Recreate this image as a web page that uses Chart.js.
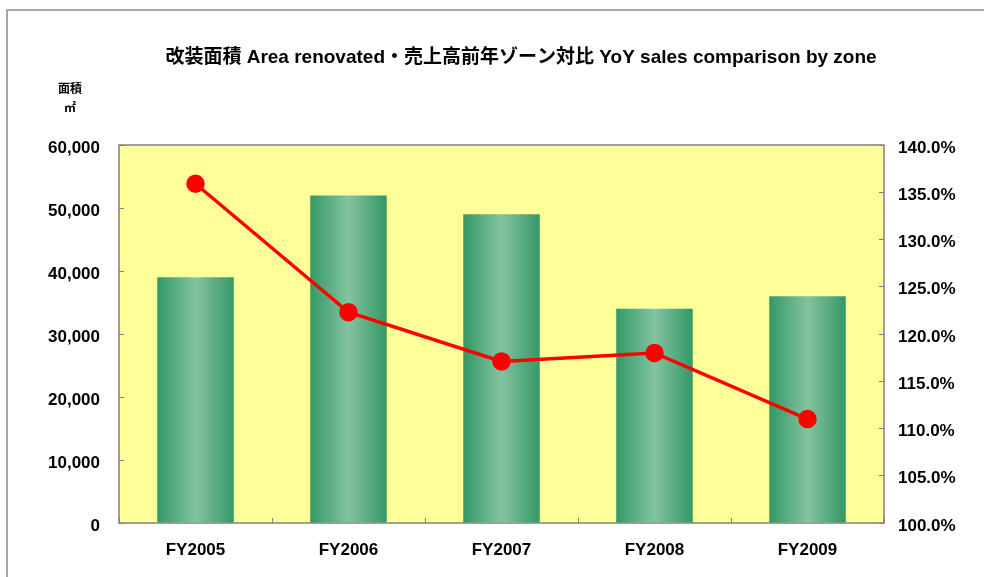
<!DOCTYPE html>
<html>
<head>
<meta charset="utf-8">
<script src="https://cdn.jsdelivr.net/npm/chart.js@4/dist/chart.umd.min.js"></script>
<style>
html,body{margin:0;padding:0;background:#fff;}
#wrap{width:984px;height:577px;position:relative;}
</style>
</head>
<body>
<div id="wrap"><canvas id="c" width="984" height="577"></canvas></div>
<script>
const categories = ['FY2005','FY2006','FY2007','FY2008','FY2009'];
const areaRenovated = [39000, 52000, 49000, 34000, 36000];
const yoySales = [135.9, 122.3, 117.1, 118.0, 111.0];
const titleText = '改装面積 Area renovated・売上高前年ゾーン対比 YoY sales comparison by zone';
const leftAxisLabel = ['面積', '㎡'];

const FONT = "'Liberation Sans', Arial, 'Noto Sans CJK JP', sans-serif";

function barGradient(c) {
  const chart = c.chart;
  const xs = chart.scales.x;
  const area = chart.chartArea;
  if (!area || !xs || c.dataIndex === undefined) return '#3a9a6a';
  const cx = xs.getPixelForValue(c.dataIndex);
  const half = (area.right - area.left) / categories.length * 0.5 / 2;
  const g = chart.ctx.createLinearGradient(cx - half, 0, cx + half, 0);
  g.addColorStop(0, '#349866');
  g.addColorStop(0.5, '#84C3A0');
  g.addColorStop(1, '#349866');
  return g;
}

const framePlugin = {
  id: 'frame',
  beforeDraw(chart) {
    const ctx = chart.ctx, a = chart.chartArea;
    ctx.save();
    ctx.fillStyle = '#fff';
    ctx.fillRect(0, 0, chart.width, chart.height);
    ctx.strokeStyle = '#A6A6A6';
    ctx.lineWidth = 2;
    ctx.beginPath();
    ctx.moveTo(7, chart.height);
    ctx.lineTo(7, 10);
    ctx.lineTo(chart.width, 10);
    ctx.stroke();
    ctx.fillStyle = '#FFFF99';
    ctx.fillRect(a.left, a.top, a.right - a.left, a.bottom - a.top);
    ctx.strokeStyle = '#808080';
    ctx.lineWidth = 1.5;
    ctx.strokeRect(a.left, a.top, a.right - a.left, a.bottom - a.top);
    ctx.fillStyle = '#000';
    ctx.textAlign = 'center';
    ctx.textBaseline = 'middle';
    ctx.font = "bold 19px " + FONT;
    ctx.fillText(titleText, 521, 58);
    ctx.font = "bold 12px 'Noto Sans CJK JP', sans-serif";
    ctx.fillText(leftAxisLabel[0], 70, 88);
    ctx.fillText(leftAxisLabel[1], 70, 107);
    ctx.restore();
  }
};

new Chart(document.getElementById('c'), {
  data: {
    labels: categories,
    datasets: [
      {
        type: 'line',
        label: 'YoY',
        data: yoySales,
        yAxisID: 'y1',
        borderColor: '#FF0000',
        backgroundColor: '#FF0000',
        borderWidth: 3.5,
        pointRadius: 7.5,
        pointHoverRadius: 7.5,
        pointBackgroundColor: '#FF0000',
        pointBorderColor: '#FF0000',
        tension: 0,
        order: 0
      },
      {
        type: 'bar',
        label: 'Area',
        data: areaRenovated,
        yAxisID: 'y',
        backgroundColor: barGradient,
        borderWidth: 0,
        barPercentage: 0.5,
        categoryPercentage: 1,
        order: 1
      }
    ]
  },
  options: {
    responsive: false,
    animation: false,
    layout: { padding: { top: 145, left: 0, right: 0, bottom: 0 } },
    plugins: {
      legend: { display: false },
      tooltip: { enabled: false },
      title: { display: false }
    },
    scales: {
      x: {
        offset: true,
        grid: { display: true, offset: true, drawOnChartArea: false, drawTicks: true, tickLength: -5, color: '#808080' },
        border: { display: false },
        ticks: { color: '#000', font: { family: FONT, size: 17, weight: 'bold' }, padding: 22, maxRotation: 0 },
        afterFit(s) { s.height = 54; }
      },
      y: {
        position: 'left',
        min: 0, max: 60000,
        grid: { display: true, drawOnChartArea: false, drawTicks: true, tickLength: -5, color: '#808080' },
        border: { display: false },
        ticks: {
          stepSize: 10000,
          color: '#000',
          font: { family: FONT, size: 17, weight: 'bold' },
          padding: 24,
          labelOffset: 3,
          callback: v => v.toLocaleString('en-US')
        },
        afterFit(s) { s.width = 119; }
      },
      y1: {
        position: 'right',
        min: 100, max: 140,
        grid: { display: true, drawOnChartArea: false, drawTicks: true, tickLength: -5, color: '#808080' },
        border: { display: false },
        ticks: {
          stepSize: 5,
          color: '#000',
          font: { family: FONT, size: 17, weight: 'bold' },
          padding: 19,
          labelOffset: 3,
          callback: v => v.toFixed(1) + '%'
        },
        afterFit(s) { s.width = 100; }
      }
    }
  },
  plugins: [framePlugin]
});
</script>
</body>
</html>
